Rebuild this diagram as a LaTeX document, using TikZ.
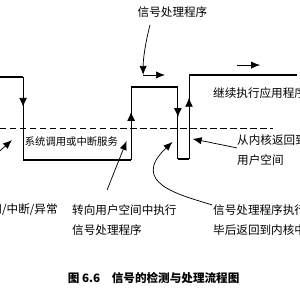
\documentclass[tikz,border=0pt]{standalone}
\usepackage{fontspec}
\usepackage{tikz}
\usetikzlibrary{arrows.meta,decorations.markings}
\newfontfamily\cjk{Noto Sans CJK SC}

\tikzset{
  userline/.style={line width=2.6pt},
  flowline/.style={line width=0.8pt},
  midarrow/.style={flowline, postaction={decorate},
    decoration={markings, mark=at position #1 with {\arrow{Latex[length=3mm,width=2.6mm]}}}},
  pointer/.style={line width=0.7pt, -{Latex[length=3mm,width=2.4mm]}},
  lbl/.style={font=\cjk\fontsize{11}{19}\selectfont, inner sep=0pt, align=left},
  boxlbl/.style={font=\cjk\fontsize{9.8}{11}\selectfont, inner sep=0pt},
}

\begin{document}
\begin{tikzpicture}
            \useasboundingbox (0,0) rectangle (10,10);
            \clip (0,0) rectangle (10,10);

            % Corner points of the flow line
            \coordinate (s0) at (-0.2,7.43);
            \coordinate (s1) at (0.77,7.43);
            \coordinate (k1) at (0.77,4.67);
            \coordinate (k2) at (4.37,4.67);
            \coordinate (u2) at (4.37,7.1);
            \coordinate (u3) at (5.93,7.1);
            \coordinate (k3) at (5.93,4.7);
            \coordinate (k4) at (6.3,4.7);
            \coordinate (u4) at (6.3,7.5);
            \coordinate (u5) at (9.9,7.5);

            % User space (top) and kernel space (bottom) runs
            \draw[userline] (s0) -- (s1);
            \draw[userline] (k1) -- (k2);
            \draw[userline] (u2) -- (u3);
            \draw[userline] (k3) -- (k4);
            \draw[userline] (u4) -- (u5);

            % Switches between the two spaces
            \draw[midarrow=0.36] (s1) -- (k1);
            \draw[midarrow=0.66] (k2) -- (u2);
            \draw[midarrow=0.42] (u3) -- (k3);
            \draw[midarrow=0.73] (k4) -- (u4);

            % Border of user and kernel space
            \coordinate (d0) at (0,5.73);
            \coordinate (d1) at (9.1,5.73);
            \draw[line width=0.8pt, dash pattern=on 6pt off 3.5pt] (d0) -- (d1);

            % Labels
            \node[lbl] (sig) at (5.75,9.6) {信号处理程序};
            \node[lbl, anchor=west] (cont) at (7.1,6.9) {继续执行应用程序};
            \node[boxlbl] (svc) at (2.38,5.27) {系统调用或中断服务};
            \node[lbl, anchor=east] (exc) at (1.93,3.0) {系统调用/中断/异常};
            \node[lbl, anchor=west] (turn) at (2.4,2.67) {转向用户空间中执行\\信号处理程序};
            \node[lbl, anchor=west] (back) at (7.9,5.0) {从内核返回到\\用户空间};
            \node[lbl, anchor=west] (done) at (7.1,2.67) {信号处理程序执行完\\毕后返回到内核中};
            \node[lbl, font=\cjk\bfseries\fontsize{11}{13}\selectfont] (cap) at (5.12,0.73) {图 6.6\hspace{1em}信号的检测与处理流程图};

            % Pointers
            \coordinate (sigfrom) at (5.0,9.17);
            \coordinate (sigto) at (4.77,7.5);
            \coordinate (go0) at (4.77,7.5);
            \coordinate (go1) at (5.5,7.5);
            \coordinate (run0) at (7.9,7.83);
            \coordinate (run1) at (8.67,7.83);
            \coordinate (excfrom) at (-0.05,4.93);
            \coordinate (excto) at (0.4,5.33);
            \coordinate (turnfrom) at (3.57,3.67);
            \coordinate (turnto) at (4.22,5.3);
            \coordinate (backfrom) at (7.9,5.07);
            \coordinate (backto) at (6.42,5.37);
            \coordinate (donefrom) at (7.07,3.17);
            \coordinate (doneto) at (5.75,5.27);

            \draw[pointer] (sigfrom) .. controls (4.83,8.5) and (4.77,8.0) .. (sigto);
            \draw[pointer] (go0) -- (go1);
            \draw[pointer] (run0) -- (run1);
            \draw[pointer] (excfrom) -- (excto);
            \draw[pointer] (turnfrom) -- (turnto);
            \draw[pointer] (backfrom) -- (backto);
            \draw[pointer] (donefrom) .. controls (6.0,3.5) and (4.3,3.9) .. (doneto);
        \end{tikzpicture}
\end{document}
